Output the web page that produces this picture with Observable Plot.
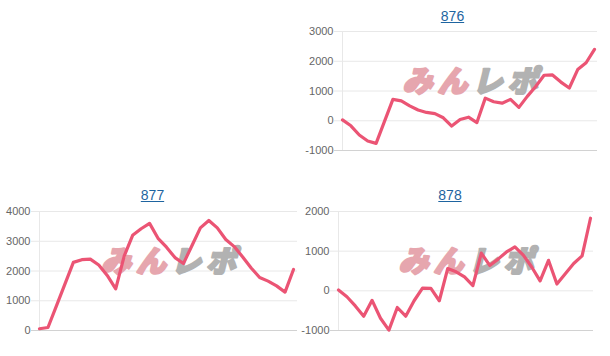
<!DOCTYPE html>
<html>
<head>
<meta charset="utf-8">
<script src="https://cdn.jsdelivr.net/npm/d3@7"></script>
<script src="https://cdn.jsdelivr.net/npm/@observablehq/plot@0.6"></script>
<style>
  html, body { margin: 0; padding: 0; background: #fff; }
  body { width: 610px; height: 356px; position: relative; overflow: hidden; font-family: "Liberation Sans", Arial, sans-serif; }
  .title { position: absolute; text-align: center; font-size: 14px; color: #1e64a0; text-decoration: underline; line-height: 16px; }
  .chart { position: absolute; }
</style>
</head>
<body>
<div class="title" id="t876" style="left:300px; top:8px; width:305px;"></div>
<div class="chart" id="c876" style="left:300px; top:22px;"></div>
<div class="title" id="t877" style="left:0px; top:187px; width:305px;"></div>
<div class="chart" id="c877" style="left:0px; top:200px;"></div>
<div class="title" id="t878" style="left:300px; top:187px; width:300px;"></div>
<div class="chart" id="c878" style="left:300px; top:200px;"></div>
<script>
// ---- data ----
const titles = ["876", "877", "878"];

const ticks876 = [-1000, 0, 1000, 2000, 3000];
const values876 = [30, -170, -480, -680, -760, -20, 720, 670, 500, 360, 280, 240, 100, -180, 40, 120, -60, 760, 640, 590, 720, 450, 820, 1150, 1530, 1540, 1300, 1100, 1720, 1950, 2400];

const ticks877 = [0, 1000, 2000, 3000, 4000];
const values877 = [60, 100, 830, 1560, 2290, 2380, 2400, 2200, 1850, 1400, 2500, 3200, 3420, 3600, 3100, 2800, 2450, 2250, 2850, 3450, 3700, 3450, 3060, 2820, 2470, 2100, 1780, 1660, 1500, 1290, 2050];

const ticks878 = [-1000, 0, 1000, 2000];
const values878 = [20, -150, -380, -640, -240, -690, -990, -420, -640, -250, 70, 60, -250, 560, 480, 350, 130, 950, 640, 800, 980, 1110, 900, 600, 250, 770, 170, 430, 690, 880, 1830];

const watermarkPink = ["み", "ん"];
const watermarkGrey = ["レ", "ポ"];

// ---- drawing ----
const LINE = "#eb5474";
const GRID = "#e8e8e8";

function makeChart({values, ticks, width, height, marginLeft, marginRight, marginTop, marginBottom, insetRight}) {
  const n = values.length;
  const wm = [];
  const chars = [...watermarkPink.map(c => [c, "#e6a6ae"]), ...watermarkGrey.map(c => [c, "#b2b2b2"])];
  chars.forEach(([c, col], i) => {
    wm.push(Plot.text([c], {
      frameAnchor: "middle", dx: (i - 1.5) * 35, dy: -9,
      fill: col, stroke: col, strokeWidth: 2.2, strokeLinejoin: "round",
      fontSize: 30, fontWeight: 900, fontStyle: "italic",
      fontFamily: "Noto Sans CJK JP, sans-serif"
    }));
  });
  return Plot.plot({
    width, height, marginLeft, marginRight, marginTop, marginBottom,
    style: {fontFamily: "Liberation Sans, Arial, sans-serif", fontSize: "11px", color: "#666", background: "transparent"},
    x: {domain: [0, n - 1], axis: null, insetRight},
    y: {domain: [ticks[0], ticks[ticks.length - 1]], ticks: ticks, tickSize: 0, tickPadding: 9, tickFormat: d => String(d), label: null},
    marks: [
      Plot.ruleY(ticks, {stroke: GRID, insetLeft: -8}),
      Plot.ruleY([ticks[0]], {stroke: "#d2d2d2", insetLeft: -8}),
      Plot.ruleX([0], {stroke: GRID}),
      ...wm,
      Plot.line(values, {x: (d, i) => i, y: d => d, stroke: LINE, strokeWidth: 3.2, strokeLinejoin: "round", strokeLinecap: "round"})
    ]
  });
}

document.getElementById("t876").textContent = titles[0];
document.getElementById("t877").textContent = titles[1];
document.getElementById("t878").textContent = titles[2];

document.getElementById("c876").append(makeChart({
  values: values876, ticks: ticks876, width: 305, height: 138,
  marginLeft: 42, marginRight: 8, marginTop: 9, marginBottom: 10, insetRight: 3
}));
document.getElementById("c877").append(makeChart({
  values: values877, ticks: ticks877, width: 305, height: 140,
  marginLeft: 39, marginRight: 8, marginTop: 11, marginBottom: 10, insetRight: 4
}));
document.getElementById("c878").append(makeChart({
  values: values878, ticks: ticks878, width: 305, height: 140,
  marginLeft: 38, marginRight: 12, marginTop: 11, marginBottom: 10, insetRight: 3
}));
</script>
</body>
</html>
